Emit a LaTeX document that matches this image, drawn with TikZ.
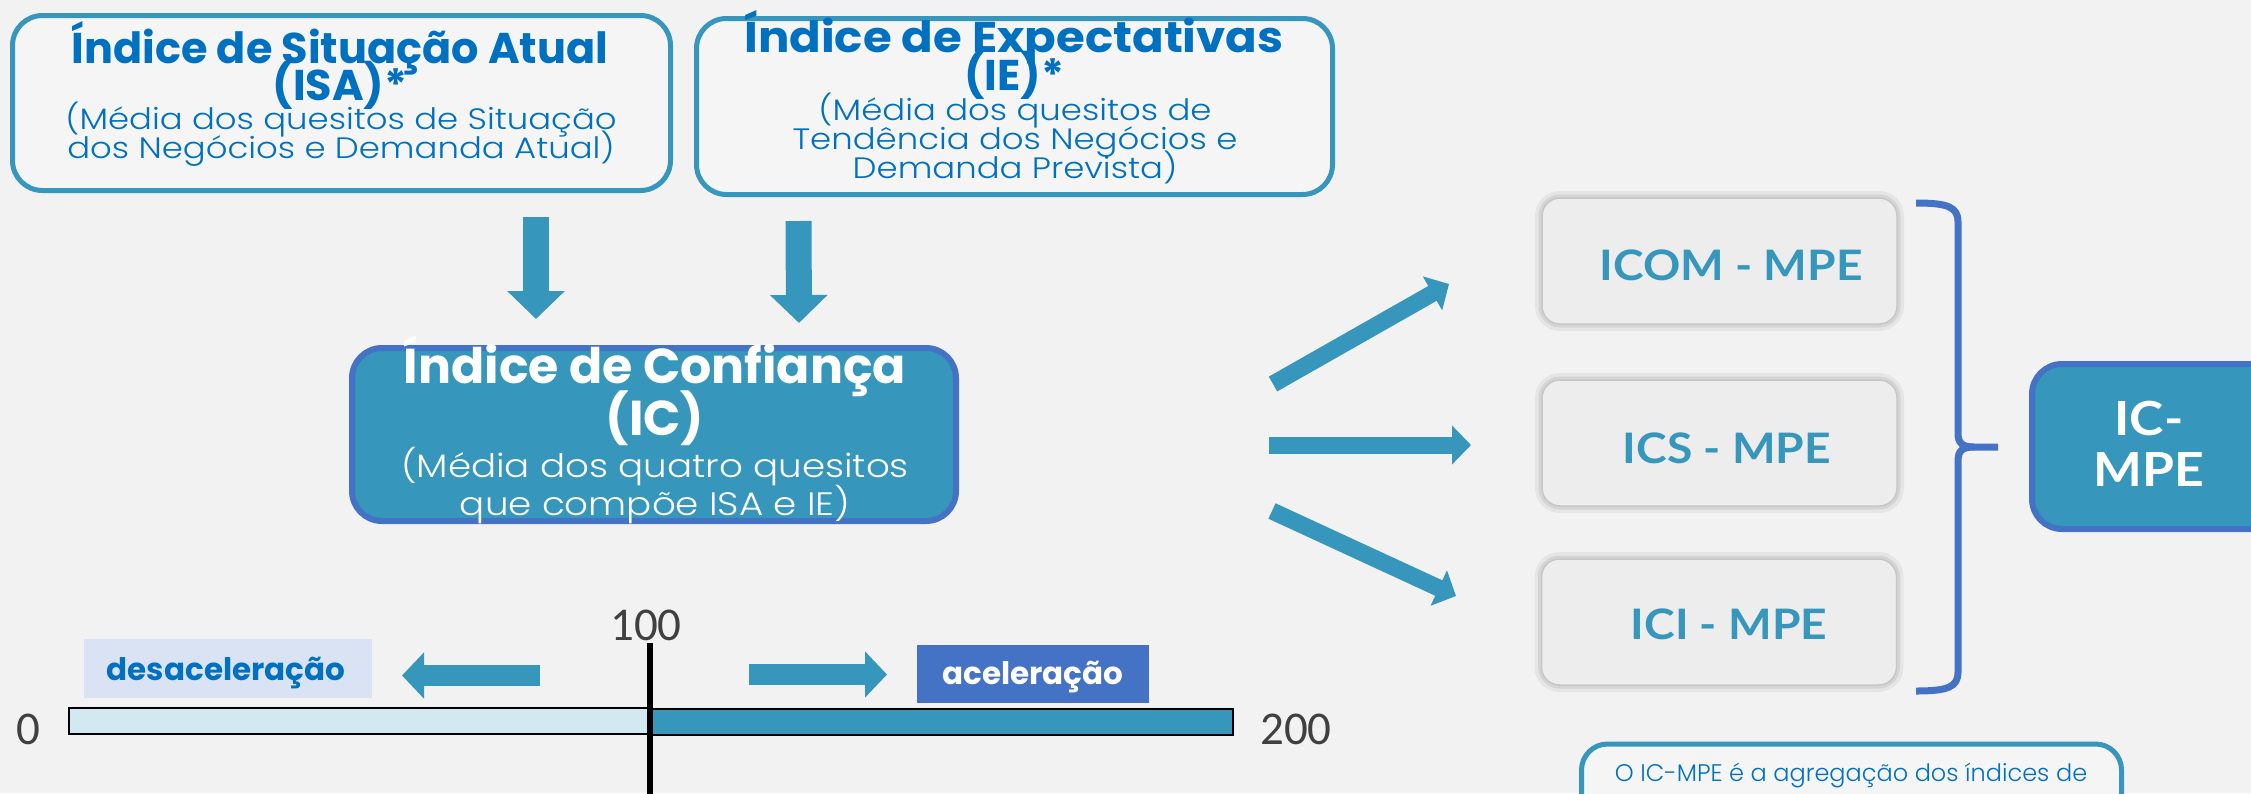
\documentclass[tikz,border=0pt]{standalone}
\usepackage{fontspec}
\setmainfont{Poppins}
\newfontfamily\plight[FakeStretch=1.15]{Poppins Light}
\newfontfamily\pnote{Poppins Light}
\newfontfamily\pwide[FakeStretch=1.085]{Poppins}
\newfontfamily\latof[FakeStretch=1.1]{Lato}
\newfontfamily\carl{Carlito}
\usetikzlibrary{arrows.meta}
\definecolor{bgc}{HTML}{F2F2F2}
\definecolor{tealc}{HTML}{3696BC}
\definecolor{tblue}{HTML}{0070C0}
\definecolor{bblue}{HTML}{4472C4}
\definecolor{boxfill}{HTML}{F5F5F5}
\definecolor{softfill}{HTML}{EDEDED}
\definecolor{dgray}{HTML}{404040}
\definecolor{ltblue}{HTML}{D3E9F1}
\definecolor{desbg}{HTML}{DAE3F3}
\tikzset{
  topbox/.style={draw=tealc, line width=5pt, fill=boxfill, rounded corners=30pt, inner sep=0pt},
  icbox/.style={draw=bblue, line width=6pt, fill=tealc, rounded corners=30pt, inner sep=0pt},
  softbox/.style={fill=softfill, draw=black!22, line width=1.5pt, rounded corners=18pt, inner sep=0pt,
     minimum width=355pt, minimum height=126pt,
     preaction={draw=black, draw opacity=0.05, line width=14pt},
     preaction={draw=black, draw opacity=0.07, line width=7pt}},
  ln/.style={anchor=base, inner sep=0pt},
  ttl/.style={ln, font=\fontsize{43}{43}\selectfont\bfseries, text=tblue},
  sub/.style={ln, font=\plight\fontsize{29.5}{29.5}\selectfont, text=tblue},
  ittl/.style={ln, font=\fontsize{49}{49}\selectfont\bfseries, text=white},
  isub/.style={ln, font=\plight\fontsize{32.4}{32.4}\selectfont, text=white},
  mpe/.style={ln, font=\latof\fontsize{42}{42}\selectfont\bfseries, text=tealc},
  downarrow/.style={draw=tealc, line width=26pt, -{Triangle[length=28pt, width=56pt]}},
  sidearrow/.style={draw=tealc, line width=17pt, -{Triangle[length=19pt, width=38pt]}},
  bararrow/.style={draw=tealc, line width=21pt, -{Triangle[length=22pt, width=45pt]}},
  num/.style={font=\carl\fontsize{47}{47}\selectfont, text=dgray, inner sep=0pt},
}
\begin{document}
\begin{tikzpicture}[x=1pt,y=-1pt]
\path[clip] (0,0) rectangle (2251,793);
\fill[bgc] (0,0) rectangle (2251,793);

% top boxes
\node[topbox, minimum width=658pt, minimum height=175pt] (isa) at (341.5,103) {};
\node[topbox, minimum width=636pt, minimum height=176pt] (ie) at (1014.5,106.5) {};
\node[ttl] (isa1) at (340,63) {Índice de Situação Atual};
\node[ttl] (isa2) at (340,100) {(ISA)*};
\node[sub] (isa3) at (341,129) {(Média dos quesitos de Situação};
\node[sub] (isa4) at (341,158) {dos Negócios e Demanda Atual)};
\node[ttl, font=\pwide\fontsize{43}{43}\selectfont\bfseries] (ie1) at (1014,52) {Índice de Expectativas};
\node[ttl] (ie2) at (1014,90) {(IE)*};
\node[sub] (ie3) at (1015,120) {(Média dos quesitos de};
\node[sub] (ie4) at (1015,149) {Tendência dos Negócios e};
\node[sub] (ie5) at (1015,178) {Demanda Prevista)};

% IC box
\node[icbox, minimum width=604pt, minimum height=173pt] (ic) at (654,434.5) {};
\node[ittl] (ic1) at (655,383) {Índice de Confiança};
\node[ittl] (ic2) at (655,435) {(IC)};
\node[isub] (ic3) at (655,477) {(Média dos quatro quesitos};
\node[isub] (ic4) at (655,515) {que compõe ISA e IE)};

% down arrows
\coordinate (d1s) at (536,217);
\coordinate (d1e) at (536,319);
\coordinate (d2s) at (798.5,221);
\coordinate (d2e) at (799,323);
\draw[downarrow] (d1s) -- (d1e);
\draw[downarrow] (d2s) -- (d2e);

% side arrows
\coordinate (s1s) at (1273,384);
\coordinate (s1e) at (1449,284);
\coordinate (s2s) at (1269,445);
\coordinate (s2e) at (1471,445);
\coordinate (s3s) at (1272,511);
\coordinate (s3e) at (1456,596);
\draw[sidearrow] (s1s) -- (s1e);
\draw[sidearrow] (s2s) -- (s2e);
\draw[sidearrow] (s3s) -- (s3e);

% sector boxes
\node[softbox] (icom) at (1719.5,261) {};
\node[softbox] (ics) at (1719.5,443) {};
\node[softbox] (ici) at (1719,622) {};
\node[mpe] (icomt) at (1731,280) {ICOM - MPE};
\node[mpe] (icst) at (1727,463) {ICS - MPE};
\node[mpe] (icit) at (1729,639) {ICI - MPE};

% brace
\draw[bblue, line width=7pt]
  (1916,203) .. controls (1948,203) and (1958,207) .. (1958,222) -- (1958,433)
  .. controls (1958,443) and (1962,447) .. (1974,447) -- (1998,447);
\draw[bblue, line width=7pt]
  (1974,447) .. controls (1962,447) and (1958,451) .. (1958,461) -- (1958,672)
  .. controls (1958,687) and (1948,691) .. (1916,691);

% IC-MPE box
\node[icbox, minimum width=250pt, minimum height=165pt] (icmpe) at (2157,446.5) {};
\node[ln, font=\latof\fontsize{47}{47}\selectfont\bfseries, text=white] (icmpe1) at (2149,435) {IC-};
\node[ln, font=\latof\fontsize{47}{47}\selectfont\bfseries, text=white] (icmpe2) at (2149,486) {MPE};

% note box
\node[topbox, rounded corners=26pt, minimum width=540pt, minimum height=200pt, anchor=north] (note) at (1851.5,741.5) {};
\node[ln, font=\pnote\fontsize{24}{24}\selectfont, text=tblue] (note1) at (1851,781) {O IC-MPE é a agregação dos índices de};
\node[ln, font=\pnote\fontsize{24}{24}\selectfont, text=tblue] (note2) at (1855,813) {confiança dos três setores pesquisados};

% scale bar
\draw[black, line width=2pt, fill=ltblue] (69,708) rectangle (650,734);
\draw[black, line width=2pt, fill=tealc] (650,709) rectangle (1233,735);
\coordinate (vtop) at (650,643);
\coordinate (vbot) at (650,800);
\draw[black, line width=6pt] (vtop) -- (vbot);
\node[num, anchor=base] (n100) at (646,640) {100};
\node[num, anchor=base] (n0) at (28,744) {0};
\node[num, anchor=base] (n200) at (1296,744) {200};

\node[fill=desbg, minimum width=288pt, minimum height=59pt, inner sep=0pt] (des) at (228,668.5) {};
\node[ln, font=\fontsize{31}{31}\selectfont\bfseries, text=tblue] (dest) at (226,680) {desaceleração};
\node[fill=bblue, minimum width=232pt, minimum height=58pt, inner sep=0pt] (ace) at (1033,674) {};
\node[ln, font=\fontsize{31}{31}\selectfont\bfseries, text=white] (acet) at (1033,684) {aceleração};

\coordinate (l1s) at (540,675.5);
\coordinate (l1e) at (402,675.5);
\coordinate (r1s) at (749,674.5);
\coordinate (r1e) at (887,674.5);
\draw[bararrow] (l1s) -- (l1e);
\draw[bararrow] (r1s) -- (r1e);
\end{tikzpicture}
\end{document}
